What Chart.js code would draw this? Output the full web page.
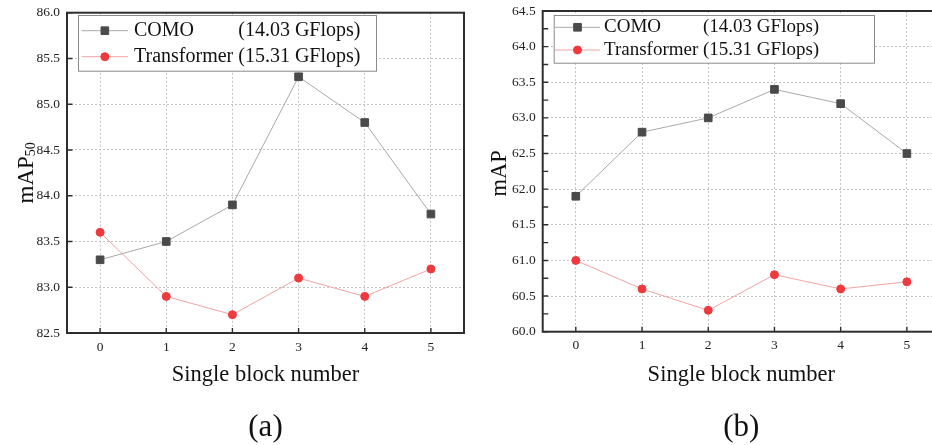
<!DOCTYPE html>
<html>
<head>
<meta charset="utf-8">
<title>Single block number vs mAP</title>
<script src="https://cdn.jsdelivr.net/npm/chart.js@4.4.1/dist/chart.umd.min.js"></script>
<style>
    html, body { margin: 0; padding: 0; background: #fff; overflow: hidden; }
    .page { position: relative; width: 932px; height: 445px; overflow: hidden; }
    #chartA { position: absolute; left: 0; top: 0; }
    #chartB { position: absolute; left: 466px; top: 0; }
</style>
</head>
<body>
<div class="page">
    <canvas id="chartA" width="466" height="445"></canvas>
    <canvas id="chartB" width="480" height="445"></canvas>
</div>
<script>
// Data
const blockNumbers = ['0', '1', '2', '3', '4', '5'];
const seriesNames = ['COMO', 'Transformer'];
const seriesFlops = ['(14.03 GFlops)', '(15.31 GFlops)'];

const comoMap50 = [83.3, 83.5, 83.9, 85.3, 84.8, 83.8];
const transformerMap50 = [83.6, 82.9, 82.7, 83.1, 82.9, 83.2];
const map50Range = [82.5, 86.0];

const comoMap = [61.9, 62.8, 63.0, 63.4, 63.2, 62.5];
const transformerMap = [61.0, 60.6, 60.3, 60.8, 60.6, 60.7];
const mapRange = [60.0, 64.5];

const SERIF = '"Liberation Serif", "Times New Roman", serif';
Chart.defaults.font.family = SERIF;
Chart.defaults.color = '#1a1a1a';

// Frame around the plot, inward ticks, y title and the panel letter
const framePlugin = {
    id: 'frame',
    afterDraw(chart, args, opts) {
        const { ctx, chartArea: a, scales: { x, y } } = chart;
        ctx.save();
        ctx.setLineDash([]);
        ctx.strokeStyle = '#2e2e2e';
        ctx.lineWidth = 2;
        ctx.strokeRect(a.left, a.top, a.right - a.left, a.bottom - a.top);

        ctx.lineWidth = 1.4;
        ctx.beginPath();
        x.ticks.forEach((t, i) => {
            const px = x.getPixelForTick(i);
            ctx.moveTo(px, a.bottom);
            ctx.lineTo(px, a.bottom - 5);
        });
        y.ticks.forEach((t, i) => {
            const py = y.getPixelForTick(i);
            ctx.moveTo(a.left, py);
            ctx.lineTo(a.left + 5.5, py);
            if (opts.minorTicks && i < y.ticks.length - 1) {
                const my = y.getPixelForValue((t.value + y.ticks[i + 1].value) / 2);
                ctx.moveTo(a.left, my);
                ctx.lineTo(a.left + 5.5, my);
            }
        });
        ctx.stroke();

        // y axis title, with optional subscript
        ctx.fillStyle = '#111';
        ctx.textBaseline = 'alphabetic';
        ctx.textAlign = 'left';
        const mainFont = opts.titleSize + 'px ' + SERIF;
        const subFont = Math.round(opts.titleSize * 0.62) + 'px ' + SERIF;
        ctx.font = mainFont;
        const wMain = ctx.measureText(opts.title).width;
        ctx.font = subFont;
        const wSub = opts.sub ? ctx.measureText(opts.sub).width : 0;
        const start = -(wMain + wSub) / 2;
        ctx.save();
        ctx.translate(a.left - opts.titleGap, (a.top + a.bottom) / 2 + opts.titleShift);
        ctx.rotate(-Math.PI / 2);
        ctx.font = mainFont;
        ctx.fillText(opts.title, start, 0);
        if (opts.sub) {
            ctx.font = subFont;
            ctx.fillText(opts.sub, start + wMain, 2);
        }
        ctx.restore();

        // panel letter under the axis title
        ctx.font = '31px ' + SERIF;
        ctx.textAlign = 'center';
        ctx.textBaseline = 'middle';
        ctx.fillText(opts.panel, (a.left + a.right) / 2, 428);
        ctx.restore();
    }
};

// Boxed legend sitting inside the plot area
const boxLegendPlugin = {
    id: 'boxLegend',
    afterDraw(chart, args, opts) {
        const { ctx, chartArea: a } = chart;
        const left = a.left + opts.dx;
        const top = a.top + opts.dy;
        ctx.save();
        ctx.setLineDash([]);
        ctx.fillStyle = '#fff';
        ctx.fillRect(left, top, opts.width, opts.height);
        ctx.strokeStyle = '#8a8a8a';
        ctx.lineWidth = 1;
        ctx.strokeRect(left + 0.5, top + 0.5, opts.width, opts.height);

        ctx.font = opts.fontSize + 'px ' + SERIF;
        const nameWidth = Math.max(...seriesNames.map(n => ctx.measureText(n).width))
            + ctx.measureText(' ').width;

        chart.data.datasets.forEach((ds, i) => {
            const rowY = top + opts.rows[i];
            ctx.strokeStyle = ds.borderColor;
            ctx.lineWidth = 1;
            ctx.beginPath();
            ctx.moveTo(left + opts.sample[0], rowY);
            ctx.lineTo(left + opts.sample[1], rowY);
            ctx.stroke();

            ctx.fillStyle = ds.pointBackgroundColor;
            ctx.strokeStyle = ds.pointBorderColor;
            Chart.helpers.drawPoint(ctx, {
                pointStyle: ds.pointStyle,
                radius: ds.pointRadius,
                rotation: 0,
                borderWidth: 1
            }, left + (opts.sample[0] + opts.sample[1]) / 2, rowY);

            ctx.fillStyle = '#111';
            ctx.textAlign = 'left';
            ctx.textBaseline = 'middle';
            ctx.fillText(seriesNames[i], left + opts.textX, rowY);
            ctx.fillText(seriesFlops[i], left + opts.textX + nameWidth, rowY);
        });
        ctx.restore();
    }
};

function makeDatasets(como, transformer) {
    return [
        {
            label: seriesNames[0],
            data: como,
            borderColor: '#a9a9a9',
            borderWidth: 1,
            pointStyle: 'rect',
            pointRadius: 5.4,
            pointBackgroundColor: '#4a4a4a',
            pointBorderColor: '#4a4a4a',
            pointBorderWidth: 1,
            tension: 0
        },
        {
            label: seriesNames[1],
            data: transformer,
            borderColor: '#f4a3a3',
            borderWidth: 1,
            pointStyle: 'circle',
            pointRadius: 4,
            pointBackgroundColor: '#f0393c',
            pointBorderColor: '#f0393c',
            pointBorderWidth: 1,
            tension: 0
        }
    ];
}

function makeOptions(range, cfg) {
    return {
        responsive: false,
        animation: false,
        devicePixelRatio: 1,
        layout: {
            autoPadding: false,
            padding: { top: cfg.top, right: cfg.right, left: 0, bottom: 0 }
        },
        plugins: {
            legend: { display: false },
            tooltip: { enabled: false },
            frame: cfg.frame,
            boxLegend: cfg.legend
        },
        scales: {
            x: {
                type: 'category',
                offset: true,
                grid: { offset: false, color: '#c4c4c4', lineWidth: 1, drawTicks: false },
                border: { display: false, dash: [2, 2] },
                ticks: { padding: 6, font: { size: 13.5 }, color: '#222' },
                title: {
                    display: true,
                    text: 'Single block number',
                    font: { size: 22.5 },
                    color: '#111',
                    padding: { top: 0, bottom: 56 }
                },
                afterFit: scale => {
                    scale.height = 445 - cfg.bottom;
                    scale.paddingLeft = 0;
                    scale.paddingRight = 0;
                }
            },
            y: {
                min: range[0],
                max: range[1],
                grid: { color: '#c4c4c4', lineWidth: 1, drawTicks: false },
                border: { display: false, dash: [2, 2] },
                ticks: {
                    stepSize: 0.5,
                    padding: 7,
                    font: { size: 13.5 },
                    color: '#222',
                    callback: v => Number(v).toFixed(1)
                },
                afterFit: scale => {
                    scale.width = cfg.axisLeft;
                    scale.paddingTop = 0;
                    scale.paddingBottom = 0;
                }
            }
        }
    };
}

// (a) mAP50
new Chart(document.getElementById('chartA'), {
    type: 'line',
    data: { labels: blockNumbers, datasets: makeDatasets(comoMap50, transformerMap50) },
    options: makeOptions(map50Range, {
        top: 12.7, right: 2, bottom: 333, axisLeft: 67,
        frame: { title: 'mAP', sub: '50', titleSize: 23, titleGap: 34, titleShift: 0, panel: '(a)', minorTicks: false },
        legend: { dx: 11, dy: 2.3, width: 298, height: 55.7, fontSize: 20, rows: [15.7, 41.7], sample: [3.7, 50], textX: 56 }
    }),
    plugins: [framePlugin, boxLegendPlugin]
});

// (b) mAP
new Chart(document.getElementById('chartB'), {
    type: 'line',
    data: { labels: blockNumbers, datasets: makeDatasets(comoMap, transformerMap) },
    options: makeOptions(mapRange, {
        top: 11, right: 6, bottom: 331.7, axisLeft: 76.7,
        frame: { title: 'mAP', sub: '', titleSize: 22.5, titleGap: 36.7, titleShift: 2, panel: '(b)', minorTicks: true },
        legend: { dx: 11, dy: 4, width: 320.3, height: 47.7, fontSize: 19, rows: [12.3, 35], sample: [1.3, 46.3], textX: 50.3 }
    }),
    plugins: [framePlugin, boxLegendPlugin]
});
</script>
</body>
</html>
